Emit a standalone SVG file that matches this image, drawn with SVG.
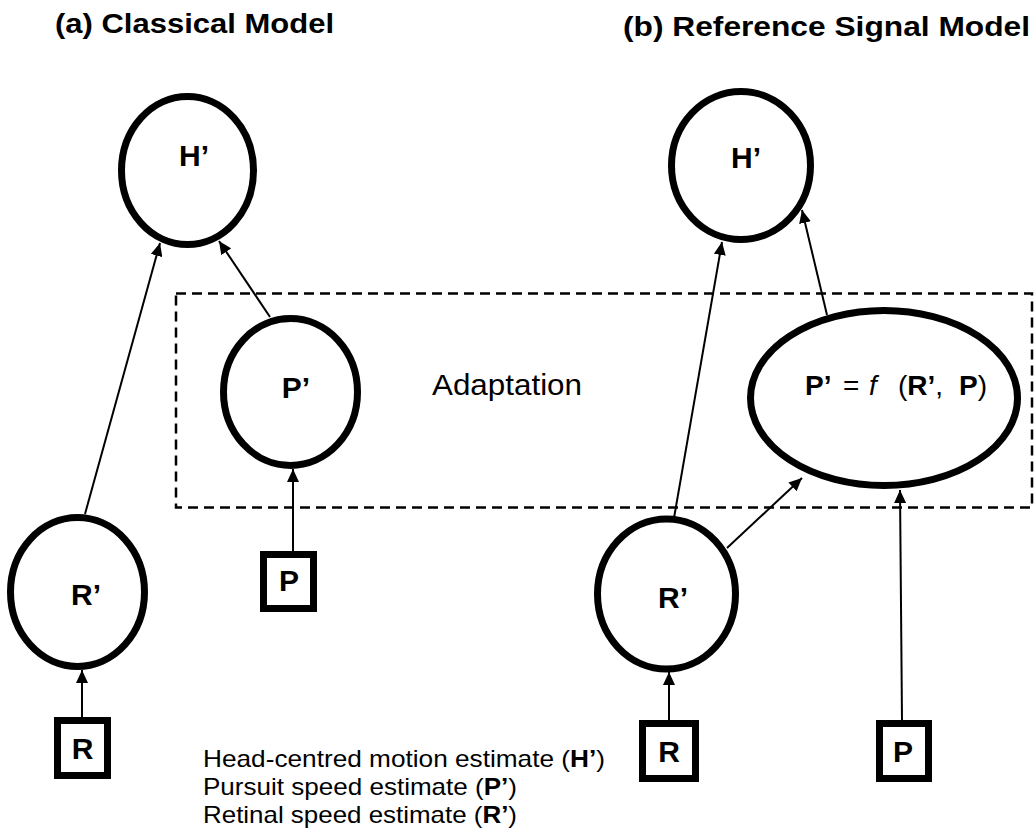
<svg xmlns="http://www.w3.org/2000/svg" width="1034" height="837" viewBox="0 0 1034 837">
  <style>
    text { font-family: "Liberation Sans", Arial, Helvetica, sans-serif; fill: #000; }
    .title { font-size: 28px; font-weight: bold; }
    .label { font-size: 30px; font-weight: bold; text-anchor: middle; }
    .plain { font-size: 24px; }
    .b { font-weight: bold; }
    .node { fill: #fff; stroke: #000; stroke-width: 7; }
    .edge { fill: none; stroke: #000; stroke-width: 2; marker-end: url(#arrow); }
    .zone { fill: none; stroke: #000; stroke-width: 2.5; stroke-dasharray: 10 6; }
  </style>
  <defs>
    <marker id="arrow" markerUnits="userSpaceOnUse" markerWidth="14" markerHeight="12" refX="13" refY="6" orient="auto">
      <path d="M0,0 L13,6 L0,12 Z" fill="#000"/>
    </marker>
  </defs>

  <rect width="1034" height="837" fill="#fff"/>

  <!-- panel titles -->
  <text class="title" x="55" y="33" textLength="279" lengthAdjust="spacingAndGlyphs">(a) Classical Model</text>
  <text class="title" x="623" y="36" textLength="407" lengthAdjust="spacingAndGlyphs">(b) Reference Signal Model</text>

  <!-- adaptation region -->
  <g id="adaptation">
    <rect class="zone" x="176" y="293.5" width="856" height="214"/>
    <text class="plain" x="432" y="395" style="font-size:29px" textLength="150" lengthAdjust="spacingAndGlyphs">Adaptation</text>
  </g>

  <!-- connectors -->
  <g id="connectors">
    <line class="edge" x1="85" y1="514" x2="160" y2="243"/>
    <line class="edge" x1="270" y1="317" x2="219" y2="241"/>
    <line class="edge" x1="293" y1="551" x2="293" y2="469"/>
    <line class="edge" x1="82" y1="717" x2="82" y2="670"/>
    <line class="edge" x1="674" y1="518" x2="722" y2="242"/>
    <line class="edge" x1="827" y1="315" x2="802" y2="210"/>
    <line class="edge" x1="727" y1="548" x2="802" y2="478"/>
    <line class="edge" x1="902" y1="720" x2="900" y2="490"/>
    <line class="edge" x1="669" y1="720" x2="669" y2="672"/>
  </g>

  <!-- (a) classical model nodes -->
  <g id="a-H">
    <ellipse class="node" cx="187.5" cy="170.5" rx="66" ry="74"/>
    <text class="label" x="194" y="166">H’</text>
  </g>
  <g id="a-Pprime">
    <ellipse class="node" cx="290.5" cy="392" rx="67" ry="73.5"/>
    <text class="label" x="296" y="398">P’</text>
  </g>
  <g id="a-Rprime">
    <ellipse class="node" cx="77.5" cy="592" rx="67" ry="74.5"/>
    <text class="label" x="86" y="605">R’</text>
  </g>
  <g id="a-R">
    <rect class="node" x="57.5" y="720.5" width="50" height="55"/>
    <text class="label" x="82.5" y="759">R</text>
  </g>
  <g id="a-P">
    <rect class="node" x="263.5" y="554.5" width="50" height="54"/>
    <text class="label" x="289" y="591">P</text>
  </g>

  <!-- (b) reference signal model nodes -->
  <g id="b-H">
    <ellipse class="node" cx="741" cy="165.5" rx="69.5" ry="74"/>
    <text class="label" x="746" y="168">H’</text>
  </g>
  <g id="b-Pprime">
    <ellipse class="node" cx="884" cy="398" rx="133.5" ry="87.5"/>
    <text style="font-size:28px" y="395"><tspan class="b" x="805">P’</tspan><tspan x="843">=</tspan><tspan x="869" font-style="italic">f</tspan><tspan x="898">(</tspan><tspan class="b">R’</tspan><tspan>,</tspan><tspan class="b" x="959">P</tspan><tspan>)</tspan></text>
  </g>
  <g id="b-Rprime">
    <ellipse class="node" cx="666.5" cy="594" rx="69" ry="75"/>
    <text class="label" x="673" y="608">R’</text>
  </g>
  <g id="b-R">
    <rect class="node" x="642.5" y="723.5" width="53" height="55"/>
    <text class="label" x="669" y="762">R</text>
  </g>
  <g id="b-P">
    <rect class="node" x="879.5" y="723.5" width="49" height="55"/>
    <text class="label" x="903" y="762">P</text>
  </g>

  <!-- legend -->
  <g id="legend">
    <text class="plain" x="203" y="767" textLength="402" lengthAdjust="spacingAndGlyphs">Head-centred motion estimate (<tspan class="b">H’</tspan>)</text>
    <text class="plain" x="203" y="795" textLength="314" lengthAdjust="spacingAndGlyphs">Pursuit speed estimate (<tspan class="b">P’</tspan>)</text>
    <text class="plain" x="203" y="823" textLength="314" lengthAdjust="spacingAndGlyphs">Retinal speed estimate (<tspan class="b">R’</tspan>)</text>
  </g>
</svg>
